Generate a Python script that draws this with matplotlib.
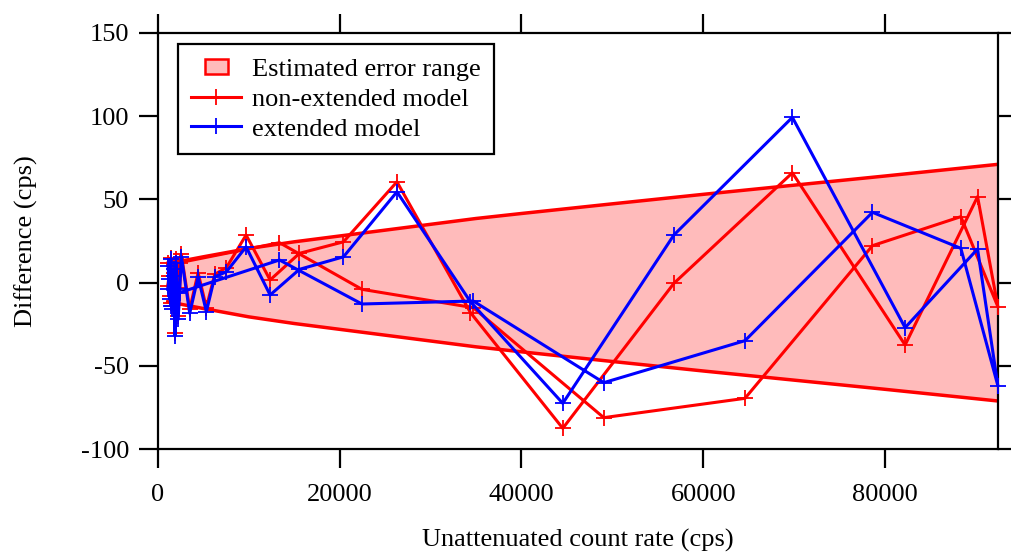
import numpy as np
import matplotlib
matplotlib.use('Agg')
import matplotlib.pyplot as plt
import matplotlib.patches as mpatches
from matplotlib.lines import Line2D
from matplotlib.legend_handler import HandlerPatch

plt.rcParams['font.family'] = ['Liberation Serif', 'DejaVu Serif']
plt.rcParams['axes.unicode_minus'] = False

# count rates (cps); data are stored as a loop: rising run, then falling run
rate = [1150, 1300, 1450, 1600, 1750, 1900, 2050, 2250, 2600,
        3520, 4440, 5350, 6270, 7550, 9720, 12360, 15590, 20430, 26310,
        34400, 44550, 56770, 69800, 82200, 90170, 92400,
        88330, 78610, 64590, 49060, 34700, 22460, 13390,
        2400, 2100, 1800, 1500, 1250, 1100]

diff_nonext = [12, -8, 15, -14, 10, -30, 14, -20, 17,
               -16, 6, -15, 5, 9, 28.6, 1.6, 17.6, 24.5, 60.5,
               -18, -87.4, -0.4, 65.9, -37.4, 51.6, -14.4,
               39.6, 22.2, -69.4, -81, -15, -4, 24,
               12, -3, 6, -12, 4, -2]

diff_ext = [10, -10, 14, -16, 8, -32, 12, -22, 15.6,
            -18.4, 3.5, -17.4, 3.5, 6.5, 21.5, -7.4, 8, 15.5, 54.5,
            -11.5, -72.4, 28.6, 99.2, -27, 20.2, -61.8,
            20.6, 42.2, -34.8, -60, -11, -12.8, 13.6,
            -6, -4, 4, -14, 2, -4]

# estimated error envelope (+/-)
env_rate = [1100, 2600, 5000, 10000, 15000, 20000, 25000, 30000, 35000,
            40000, 50000, 60000, 70000, 80000, 92400]
env_half = [11.5, 13, 15.5, 20.5, 24.5, 28, 31.5, 35, 38.5,
            41.5, 47.3, 53, 58.5, 64, 71]

fig = plt.figure(figsize=(10.11, 5.53), dpi=100)
ax = fig.add_axes([0.156, 0.1875, 0.831, 0.7534])

env_x = np.array(env_rate)
env_h = np.array(env_half)
ax.fill_between(env_x, -env_h, env_h, color='#ffbbbb', lw=0, zorder=1)
ax.plot(env_x, env_h, color='red', lw=2.5, zorder=2)
ax.plot(env_x, -env_h, color='red', lw=2.5, zorder=2)

ax.plot(rate, diff_nonext, color='red', lw=2.2, marker='+', ms=11, mew=1.3,
        zorder=3, clip_on=False)
ax.plot(rate, diff_ext, color='blue', lw=2.2, marker='+', ms=11, mew=1.3,
        zorder=4, clip_on=False)

ax.set_xlim(0, 92400)
ax.set_ylim(-100, 150)
ax.set_xticks([0, 20000, 40000, 60000, 80000])
ax.set_yticks([-100, -50, 0, 50, 100, 150])
ax.tick_params(direction='out', length=13.7, width=1.6, labelsize=19,
               top=True, right=True)
ax.tick_params(axis='x', pad=11)
ax.tick_params(axis='y', pad=7)
for s in ax.spines.values():
    s.set_linewidth(1.6)

ax.set_xlabel('Unattenuated count rate (cps)', fontsize=19)
ax.set_ylabel('Difference (cps)', fontsize=19)
ax.xaxis.set_label_coords(0.5, -0.19)
ax.yaxis.set_label_coords(-0.142, 0.5)


def small_box(legend, orig_handle, xdescent, ydescent, width, height, fontsize):
    w = width * 0.47
    h = height * 0.8
    return mpatches.Rectangle((-xdescent + (width - w) / 2, -ydescent + (height - h) / 2), w, h)


handles = [mpatches.Patch(facecolor='#ffbbbb', edgecolor='red', lw=1.8),
           Line2D([], [], color='red', lw=2.2, marker='+', ms=11, mew=1.3),
           Line2D([], [], color='blue', lw=2.2, marker='+', ms=11, mew=1.3)]
labels = ['Estimated error range', 'non-extended model', 'extended model']
leg = ax.legend(handles, labels, loc='upper left',
                bbox_to_anchor=(178.3 / 1011, 1 - 44.3 / 553),
                bbox_transform=fig.transFigure, borderaxespad=0,
                fontsize=19, fancybox=False, framealpha=1, edgecolor='black',
                handlelength=1.86, handletextpad=0.45, labelspacing=0.24,
                borderpad=0.5,
                handler_map={mpatches.Patch: HandlerPatch(patch_func=small_box)})
leg.get_frame().set_linewidth(1.6)

fig.savefig('out.png', dpi=100)
